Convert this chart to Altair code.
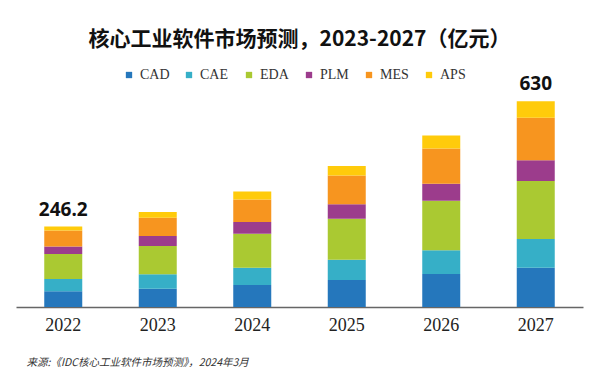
import altair as alt
import pandas as pd

years = ["2022", "2023", "2024", "2025", "2026", "2027"]
segments = ["CAD", "CAE", "EDA", "PLM", "MES", "APS"]
colors = ["#2577bc", "#36afc7", "#aac932", "#9c3c8c", "#f7951f", "#ffcb0b"]

cad = [48, 56, 67, 83, 101, 120]
cae = [38, 44, 53, 62, 73, 88]
eda = [76.5, 87, 104, 125.5, 151, 178]
plm = [23, 30.5, 36, 44, 52, 63]
mes = [49, 56, 69, 88, 108, 130]
aps = [11.7, 17.5, 24.5, 29.5, 40, 51]

label_years = ["2022", "2027"]
label_values = [246.2, 630]

title_text = "核心工业软件市场预测，2023-2027（亿元）"
source_text = "来源:《IDC核心工业软件市场预测》，2024年3月"

series = [cad, cae, eda, plm, mes, aps]
rows = []
for si, (seg, vals) in enumerate(zip(segments, series)):
    for y, v in zip(years, vals):
        rows.append({"year": y, "segment": seg, "value": v, "idx": si})
df = pd.DataFrame(rows)
lab = pd.DataFrame({"year": label_years, "total": label_values,
                    "text": ["246.2", "630"]})

x_scale = alt.Scale(paddingInner=0, paddingOuter=0)
x_axis = alt.Axis(title=source_text, labelAngle=0, ticks=False,
                  grid=False, domainColor="#666666", domainWidth=1.5,
                  labelFont="Liberation Serif", labelFontSize=18,
                  labelColor="#222222", labelPadding=9,
                  titleFont="Noto Sans CJK SC", titleFontSize=10.5,
                  titleFontStyle="italic", titleFontWeight="normal",
                  titleColor="#333333", titleAnchor="start",
                  titleAlign="left", titleBaseline="middle",
                  titleX=10, titleY=55)
x_enc = alt.X("year:N", sort=years, scale=x_scale, axis=x_axis)

y_scale = alt.Scale(domain=[0, 750], nice=False, zero=True)

bars = alt.Chart(df).mark_bar(size=38).encode(
    x=x_enc,
    y=alt.Y("value:Q", stack="zero", scale=y_scale, axis=None),
    color=alt.Color("segment:N", sort=segments,
                    scale=alt.Scale(domain=segments, range=colors),
                    legend=alt.Legend(title=None, orient="none", direction="horizontal",
                                      columns=6, legendX=106, legendY=6,
                                      symbolType="square", symbolSize=40,
                                      symbolStrokeWidth=0, labelOffset=4,
                                      labelFont="Liberation Serif", labelFontSize=14,
                                      labelColor="#333333", columnPadding=12,
                                      gridAlign="all", padding=0)),
    order=alt.Order("idx:Q", sort="ascending"),
)

labels = alt.Chart(lab).mark_text(baseline="alphabetic", dy=-11, font="Noto Sans",
                                  fontWeight="bold", fontSize=19, color="#111111").encode(
    x=x_enc,
    y=alt.Y("total:Q", scale=y_scale, axis=None),
    text="text:N",
)

chart = alt.layer(bars, labels).properties(
    width=567, height=245,
    background="white",
    title=alt.TitleParams(title_text, font="Noto Sans CJK SC", fontSize=21,
                          fontWeight="bold", color="#111111", anchor="middle",
                          offset=12),
    autosize=alt.AutoSizeParams(type="none"),
    padding={"left": 8, "top": 54, "right": 9, "bottom": 60},
).configure_view(strokeWidth=0, stroke="transparent")

chart.save("out.html", embed_options={"renderer": "svg", "actions": False})
